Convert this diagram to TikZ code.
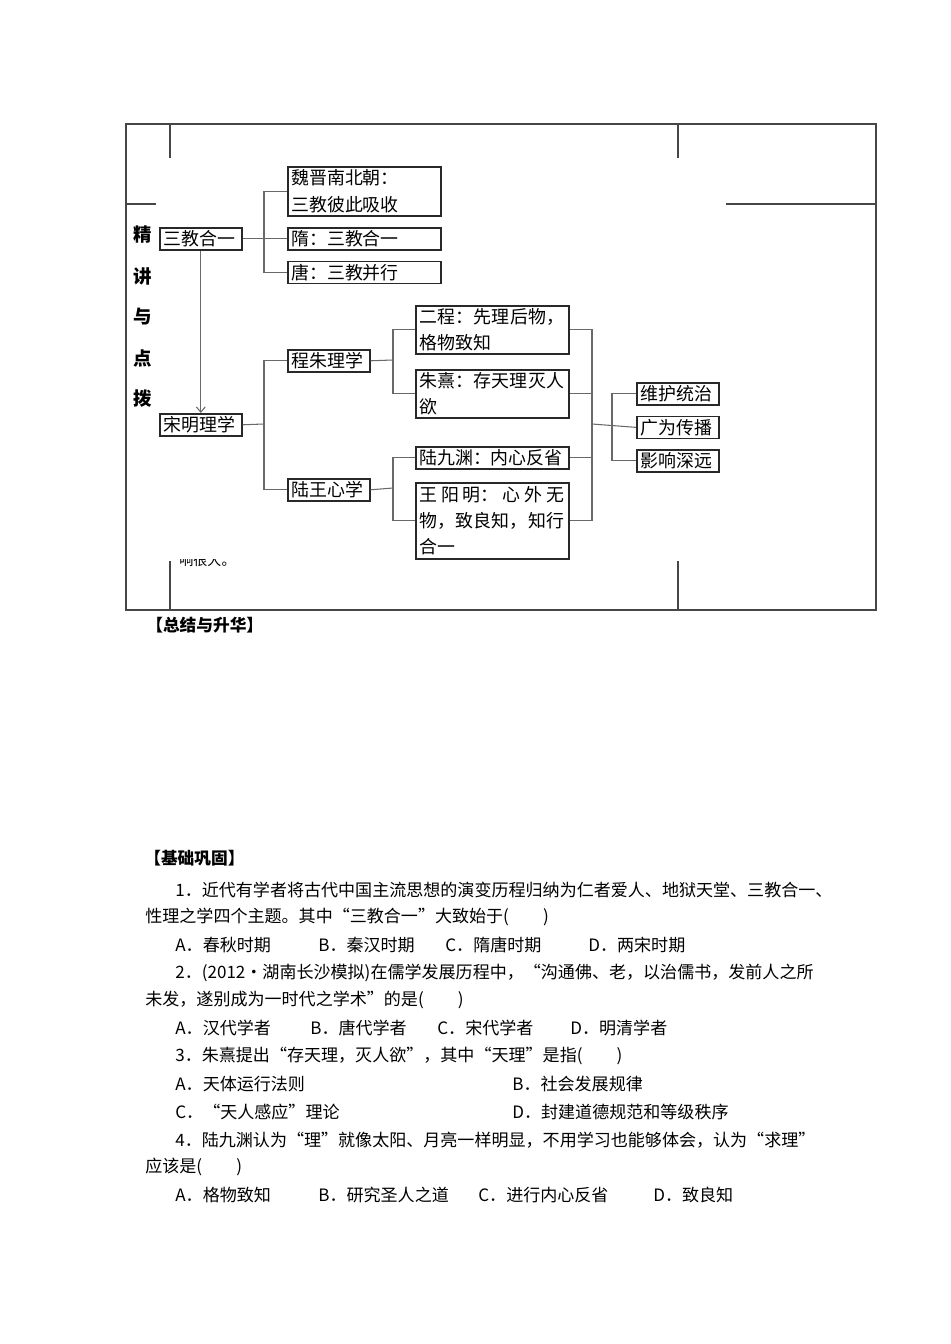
\documentclass[tikz,border=0pt]{standalone}
\usepackage{fontspec}
\usepackage{tikz}
\usetikzlibrary{arrows.meta, positioning}
\newfontfamily\cjk{Noto Sans CJK SC}
\definecolor{myframe}{RGB}{70,70,70}
\definecolor{mybox}{RGB}{40,40,40}
\definecolor{myline}{RGB}{105,105,105}
\tikzset{
  kbox/.style={rectangle, draw=mybox, line width=0.9pt, inner xsep=2pt, inner ysep=1pt,
    font=\cjk\fontsize{10.2}{15}\selectfont, align=left, anchor=north west},
  shortbox/.style={kbox, text width=1.5cm, minimum height=0.44cm},
  longbox/.style={kbox, text width=2.92cm, minimum height=0.44cm},
  conn/.style={line width=0.6pt, color=myline},
  sidelabel/.style={font=\cjk\bfseries\fontsize{10.5}{12}\selectfont},
  heading/.style={anchor=west, inner sep=0pt, font=\cjk\bfseries\fontsize{9.5}{11}\selectfont},
  qline/.style={anchor=west, inner sep=0pt, font=\cjk\fontsize{9.7}{11}\selectfont}
}
\newcommand{\fillrow}[1]{\makebox[2.9cm][s]{#1}}

\begin{document}
\begin{tikzpicture}[x=0.02cm, y=-0.02cm]
  \useasboundingbox (0,0) rectangle (950,1344);
  % table frame
  \draw[myframe, line width=0.9pt] (126,124) rectangle (876,610);
  \draw[myframe, line width=0.7pt] (170,124) -- (170,158);
  \draw[myframe, line width=0.7pt] (126,204) -- (156,204);
  \draw[myframe, line width=0.7pt] (678,124) -- (678,158);
  \draw[myframe, line width=0.7pt] (726,204) -- (876,204);
  \draw[myframe, line width=0.7pt] (170,561) -- (170,610);
  \draw[myframe, line width=0.7pt] (678,561) -- (678,610);
  \foreach \ch/\yy [count=\i] in {精/235, 讲/276, 与/317, 点/358, 拨/399}
    \node[sidelabel] (side\i) at (143,\yy) {\ch};
  \begin{scope}
    \clip (171,559) rectangle (260,580);
    \node[anchor=west, inner sep=0pt, font=\cjk\fontsize{8}{10}\selectfont] (tail) at (179,560) {响很大。};
  \end{scope}

  % boxes
  \node[shortbox] (sanjiao) at (159,227) {三教合一};
  \node[longbox, minimum height=0.98cm] (weijin) at (287,166) {魏晋南北朝：\\三教彼此吸收};
  \node[longbox] (sui) at (287,227) {隋：三教合一};
  \node[longbox, below=0.2cm of sui] (tang) {唐：三教并行};
  \node[shortbox] (songming) at (159,413) {宋明理学};
  \node[shortbox] (chengzhu) at (287,349) {程朱理学};
  \node[shortbox] (luwang) at (287,478) {陆王心学};
  \node[longbox, minimum height=0.96cm] (ercheng) at (415,305)
    {\fillrow{二\hfill 程：\hfill 先\hfill 理\hfill 后\hfill 物，}\\格物致知};
  \node[longbox, minimum height=0.96cm] (zhuxi) at (415,369)
    {\fillrow{朱\hfill 熹：\hfill 存\hfill 天\hfill 理\hfill 灭\hfill 人}\\欲};
  \node[longbox] (lujiuyuan) at (415,446) {陆九渊：内心反省};
  \node[longbox, minimum height=1.52cm] (wangyangming) at (415,482)
    {\fillrow{王\hfill 阳\hfill 明：\hfill 心\hfill 外\hfill 无}\\
     \fillrow{物，\hfill 致\hfill 良\hfill 知，\hfill 知\hfill 行}\\合一};
  \node[shortbox] (weihu) at (636,382) {维护统治};
  \node[shortbox, below=0.2cm of weihu] (guangwei) {广为传播};
  \node[shortbox, below=0.2cm of guangwei] (yingxiang) {影响深远};

  % connectors
  \coordinate (j1) at (264,238);
  \coordinate (j2) at (264,424);
  \coordinate (j3) at (393,360);
  \coordinate (j4) at (393,488);
  \coordinate (j5) at (592,424);
  \coordinate (j6) at (612,424);
  \draw[conn] (sanjiao.east) -- (sui.west);
  \draw[conn] (weijin.west) -| (j1) |- (tang.west);
  \draw[conn, -{Straight Barb[length=3pt, width=5pt]}] (sanjiao.south) -- (songming.north);
  \draw[conn] (songming.east) -- (j2);
  \draw[conn] (chengzhu.west) -| (j2) |- (luwang.west);
  \draw[conn] (chengzhu.east) -- (j3);
  \draw[conn] (ercheng.west) -| (j3) |- (zhuxi.west);
  \draw[conn] (luwang.east) -- (j4);
  \draw[conn] (lujiuyuan.west) -| (j4) |- (wangyangming.west);
  \draw[conn] (ercheng.east) -| (j5) |- (wangyangming.east);
  \draw[conn] (zhuxi.east) -| (j5);
  \draw[conn] (lujiuyuan.east) -| (j5);
  \draw[conn] (j5) -- (guangwei.west);
  \draw[conn] (weihu.west) -| (j6) |- (yingxiang.west);

  % text below the table
  \node[heading] (summary) at (146,625) {【总结与升华】};
  \node[heading] (basics) at (144,858) {【基础巩固】};
  \node[qline] (q1a) at (175,890) {1．近代有学者将古代中国主流思想的演变历程归纳为仁者爱人、地狱天堂、三教合一、};
  \node[qline] (q1b) at (145,917) {性理之学四个主题。其中“三教合一”大致始于(　　)};
  \node[qline] (q1A) at (175,945) {A．春秋时期};
  \node[qline] (q1B) at (318,945) {B．秦汉时期};
  \node[qline] (q1C) at (445,945) {C．隋唐时期};
  \node[qline] (q1D) at (588,945) {D．两宋时期};
  \node[qline] (q2a) at (175,973) {2．(2012•湖南长沙模拟)在儒学发展历程中，“沟通佛、老，以治儒书，发前人之所};
  \node[qline] (q2b) at (145,1000) {未发，遂别成为一时代之学术”的是(　　)};
  \node[qline] (q2A) at (175,1028) {A．汉代学者};
  \node[qline] (q2B) at (310,1028) {B．唐代学者};
  \node[qline] (q2C) at (437,1028) {C．宋代学者};
  \node[qline] (q2D) at (570,1028) {D．明清学者};
  \node[qline] (q3a) at (175,1056) {3．朱熹提出“存天理，灭人欲”，其中“天理”是指(　　)};
  \node[qline] (q3A) at (175,1084) {A．天体运行法则};
  \node[qline] (q3B) at (512,1084) {B．社会发展规律};
  \node[qline] (q3C) at (175,1112) {C．“天人感应”理论};
  \node[qline] (q3D) at (512,1112) {D．封建道德规范和等级秩序};
  \node[qline] (q4a) at (175,1140) {4．陆九渊认为“理”就像太阳、月亮一样明显，不用学习也能够体会，认为“求理”};
  \node[qline] (q4b) at (145,1167) {应该是(　　)};
  \node[qline] (q4A) at (175,1195) {A．格物致知};
  \node[qline] (q4B) at (318,1195) {B．研究圣人之道};
  \node[qline] (q4C) at (478,1195) {C．进行内心反省};
  \node[qline] (q4D) at (653,1195) {D．致良知};
\end{tikzpicture}
\end{document}
